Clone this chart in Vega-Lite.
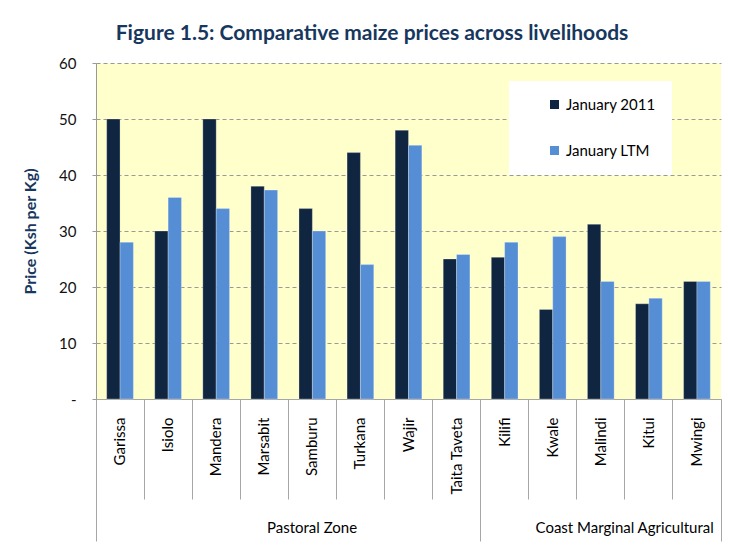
{
  "$schema": "https://vega.github.io/schema/vega-lite/v6.json",
  "width": 625,
  "height": 336,
  "autosize": "none",
  "padding": {"left": 96, "top": 63, "right": 10, "bottom": 157},
  "background": "white",
  "title": {"text": "Figure 1.5: Comparative maize prices across livelihoods", "font": "Lato", "fontSize": 21, "fontWeight": "bold", "color": "#17375e", "anchor": "middle", "frame": "bounds", "offset": 12},
  "config": {"view": {"fill": "#ffffcc", "stroke": null}, "font": "Lato"},
  "data": {"values": [
    {"region": "Garissa", "zone": "Pastoral Zone", "series": "January 2011", "price": 50},
    {"region": "Garissa", "zone": "Pastoral Zone", "series": "January LTM", "price": 28},
    {"region": "Isiolo", "zone": "Pastoral Zone", "series": "January 2011", "price": 30},
    {"region": "Isiolo", "zone": "Pastoral Zone", "series": "January LTM", "price": 36},
    {"region": "Mandera", "zone": "Pastoral Zone", "series": "January 2011", "price": 50},
    {"region": "Mandera", "zone": "Pastoral Zone", "series": "January LTM", "price": 34},
    {"region": "Marsabit", "zone": "Pastoral Zone", "series": "January 2011", "price": 38},
    {"region": "Marsabit", "zone": "Pastoral Zone", "series": "January LTM", "price": 37.3},
    {"region": "Samburu", "zone": "Pastoral Zone", "series": "January 2011", "price": 34},
    {"region": "Samburu", "zone": "Pastoral Zone", "series": "January LTM", "price": 30},
    {"region": "Turkana", "zone": "Pastoral Zone", "series": "January 2011", "price": 44},
    {"region": "Turkana", "zone": "Pastoral Zone", "series": "January LTM", "price": 24},
    {"region": "Wajir", "zone": "Pastoral Zone", "series": "January 2011", "price": 48},
    {"region": "Wajir", "zone": "Pastoral Zone", "series": "January LTM", "price": 45.3},
    {"region": "Taita Taveta", "zone": "Pastoral Zone", "series": "January 2011", "price": 25},
    {"region": "Taita Taveta", "zone": "Pastoral Zone", "series": "January LTM", "price": 25.8},
    {"region": "Kilifi", "zone": "Coast Marginal Agricultural", "series": "January 2011", "price": 25.3},
    {"region": "Kilifi", "zone": "Coast Marginal Agricultural", "series": "January LTM", "price": 28},
    {"region": "Kwale", "zone": "Coast Marginal Agricultural", "series": "January 2011", "price": 16},
    {"region": "Kwale", "zone": "Coast Marginal Agricultural", "series": "January LTM", "price": 29},
    {"region": "Malindi", "zone": "Coast Marginal Agricultural", "series": "January 2011", "price": 31.2},
    {"region": "Malindi", "zone": "Coast Marginal Agricultural", "series": "January LTM", "price": 21},
    {"region": "Kitui", "zone": "Coast Marginal Agricultural", "series": "January 2011", "price": 17},
    {"region": "Kitui", "zone": "Coast Marginal Agricultural", "series": "January LTM", "price": 18},
    {"region": "Mwingi", "zone": "Coast Marginal Agricultural", "series": "January 2011", "price": 21},
    {"region": "Mwingi", "zone": "Coast Marginal Agricultural", "series": "January LTM", "price": 21}
  ]},
  "layer": [
    {
      "mark": {"type": "bar", "stroke": "#ffffff", "strokeOpacity": 0.35, "strokeWidth": 0.8},
      "encoding": {
        "x": {"field": "region", "type": "nominal", "sort": null,
          "scale": {"domain": ["Garissa", "Isiolo", "Mandera", "Marsabit", "Samburu", "Turkana", "Wajir", "Taita Taveta", "Kilifi", "Kwale", "Malindi", "Kitui", "Mwingi"], "paddingInner": 0, "paddingOuter": 0},
          "axis": {"orient": "bottom", "title": null, "bandPosition": 0, "tickSize": 100, "tickColor": "#a6a6a6", "domainColor": "#a6a6a6", "labelAngle": -90, "labelAlign": "right", "labelBaseline": "middle", "labelPadding": -82, "labelFontSize": 15, "labelColor": "#000000", "labelFont": "Lato", "grid": false}},
        "xOffset": {"field": "series", "type": "nominal", "sort": ["January 2011", "January LTM"], "scale": {"paddingInner": 0, "paddingOuter": 0.8}},
        "y": {"field": "price", "type": "quantitative", "scale": {"domain": [0, 60]},
          "axis": {"title": "Price (Ksh per Kg)", "titleFont": "Lato", "titleFontSize": 16, "titleFontWeight": "bold", "titleColor": "#17375e", "titlePadding": 20, "values": [0, 10, 20, 30, 40, 50, 60], "labelExpr": "datum.value == 0 ? '-\u00a0\u00a0\u00a0\u00a0' : datum.label", "labelFontSize": 15, "labelColor": "#111111", "labelFont": "Lato", "labelPadding": 14, "tickSize": 6, "tickColor": "#999999", "tickDash": [4, 2], "domainColor": "#999999", "gridColor": "#999999", "gridDash": [4, 3], "grid": true}},
        "color": {"field": "series", "type": "nominal",
          "scale": {"domain": ["January 2011", "January LTM"], "range": ["#10253f", "#558ed5"]},
          "legend": {"title": null, "orient": "none", "direction": "vertical", "legendX": 413, "legendY": 18, "fillColor": "#ffffff", "padding": 16, "symbolType": "square", "symbolSize": 81, "symbolOffset": 22, "rowPadding": 30, "labelFontSize": 15, "labelColor": "#000000", "labelFont": "Lato", "symbolStrokeWidth": 0, "labelExpr": "datum.label + '\u00a0\u00a0\u00a0\u00a0\u00a0\u00a0\u00a0'"}}
      }
    },
    {
      "mark": {"type": "point", "opacity": 0},
      "encoding": {
        "x": {"field": "region", "type": "nominal", "sort": null,
          "scale": {"domain": ["Garissa", "Isiolo", "Mandera", "Marsabit", "Samburu", "Turkana", "Wajir", "Taita Taveta", "Kilifi", "Kwale", "Malindi", "Kitui", "Mwingi"], "paddingInner": 0, "paddingOuter": 0},
          "axis": {"orient": "bottom", "title": null, "values": ["Garissa", "Kilifi"], "bandPosition": 0, "tickSize": 142, "tickColor": "#a6a6a6", "domain": false, "grid": false, "labelAngle": 0, "labelAlign": "center", "labelBaseline": "top", "labelPadding": -21, "labelFontSize": 15, "labelColor": "#000000", "labelFont": "Lato", "labelOverlap": false, "labelExpr": "datum.value == 'Garissa' ? 'Pastoral Zone' : 'Coast Marginal Agricultural'", "labelOffset": {"condition": {"test": "datum.value == 'Garissa'", "value": 192}, "value": 120}}}
      }
    },
    {
      "mark": {"type": "point", "opacity": 0},
      "encoding": {
        "x": {"field": "region", "type": "nominal", "sort": null,
          "scale": {"domain": ["Garissa", "Isiolo", "Mandera", "Marsabit", "Samburu", "Turkana", "Wajir", "Taita Taveta", "Kilifi", "Kwale", "Malindi", "Kitui", "Mwingi"], "paddingInner": 0, "paddingOuter": 0},
          "axis": {"orient": "bottom", "title": null, "values": ["Mwingi"], "bandPosition": 1, "tickSize": 142, "tickColor": "#a6a6a6", "domain": false, "grid": false, "labels": false}}
      }
    }
  ],
  "resolve": {"axis": {"x": "independent"}}
}
